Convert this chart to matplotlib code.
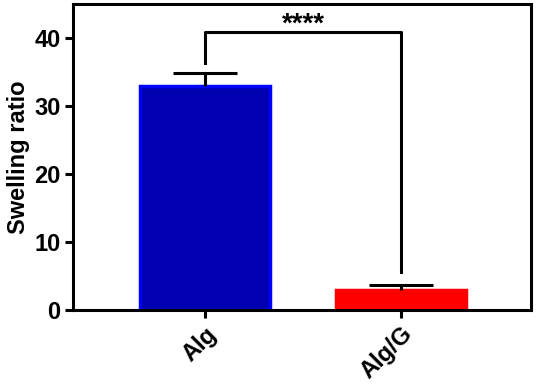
import matplotlib
matplotlib.use("Agg")
import matplotlib.pyplot as plt

categories = ["Alg", "Alg/G"]
values = [33.0, 3.0]
errors = [1.9, 0.65]
sig_label = "****"
bracket_top = 40.9
bracket_left_end = 36.3
bracket_right_end = 5.6

plt.rcParams['font.family'] = ['Liberation Sans', 'DejaVu Sans']
plt.rcParams['font.weight'] = 'bold'

fig = plt.figure(figsize=(5.36, 3.84), dpi=100)
ax = fig.add_axes([73/536, 1-310/384, (531-73)/536, (310-4)/384])

x = [0, 1]
facecolors = ["#0000b0", "#ff0000"]
edgecolors = ["#0000ff", "#ff0000"]
ax.bar(x, values, width=0.665, color=facecolors, edgecolor=edgecolors, linewidth=2.5, zorder=2)
tops = [v + e for v, e in zip(values, errors)]
ax.vlines(x, values, tops, color='black', lw=2.2, zorder=3)
ax.plot(x, tops, ls='none', marker='_', markersize=46, markeredgewidth=2.2, color='black', zorder=3)

ax.plot([0, 0, 1, 1], [bracket_left_end, bracket_top, bracket_top, bracket_right_end],
        color='black', lw=2.2, zorder=3)
ax.text(0.5, bracket_top + 1.0, sig_label, ha='center', va='center', fontsize=20, fontweight='bold')

ax.set_xlim(-0.673, 1.663)
ax.set_ylim(0, 45)
ax.set_yticks([0, 10, 20, 30, 40])
ax.set_xticks(x)
ax.set_xticklabels(categories, rotation=45, ha='right', rotation_mode='anchor', fontsize=17, fontweight='bold')
ax.set_ylabel("Swelling ratio", fontsize=17, fontweight='bold', labelpad=3)
ax.tick_params(axis='both', width=2.2, length=6, labelsize=17, pad=3)
for lab in ax.get_yticklabels():
    lab.set_fontweight('bold')
for s in ax.spines.values():
    s.set_linewidth(2.2)

fig.savefig("out.png", dpi=100)
